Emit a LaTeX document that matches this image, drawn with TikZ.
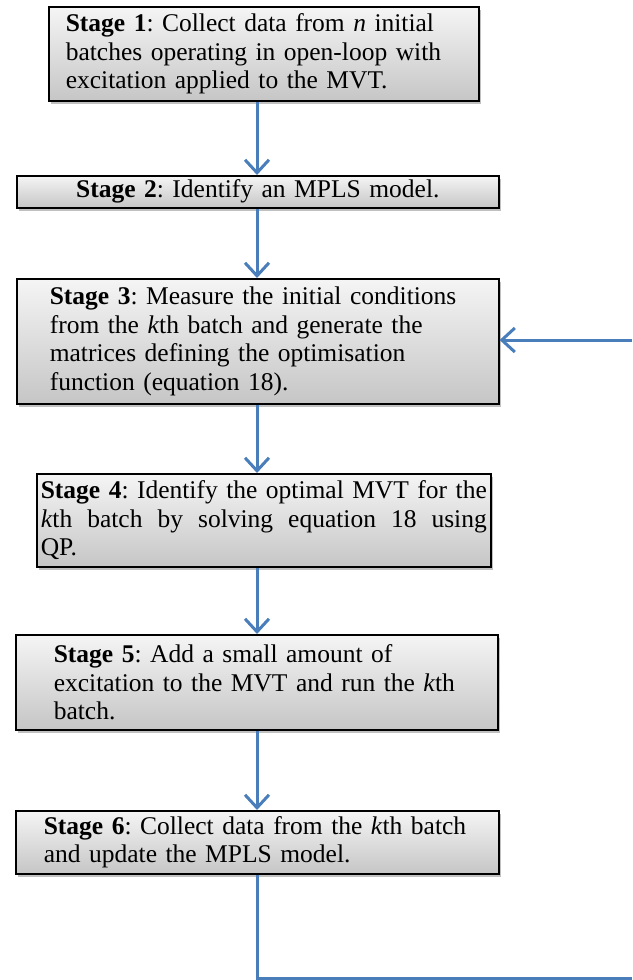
\documentclass[tikz,border=0pt]{standalone}
\usepackage{fontspec}
\setmainfont{Liberation Serif}
\usetikzlibrary{arrows.meta,shadows}
\definecolor{arrowblue}{RGB}{74,126,187}
\frenchspacing
\newcommand{\justline}[2]{\makebox[#1][s]{\spaceskip=0pt\xspaceskip=0pt\relax #2}}
\tikzset{
  stagebox/.style={draw=black, line width=1.6pt, top color=gray!8, bottom color=gray!45,
    drop shadow={shadow xshift=2.5pt, shadow yshift=-3pt, fill=black!45, opacity=0.55},
    anchor=north west, inner ysep=0pt, align=left,
    font=\fontsize{25.5}{28.5}\selectfont},
  flow/.style={draw=arrowblue, line width=3pt, -{Straight Barb[length=13pt,width=24pt,line width=3pt]}},
  plainflow/.style={draw=arrowblue, line width=3pt}
}
\begin{document}
\begin{tikzpicture}[x=1pt,y=-1pt]
\useasboundingbox (0,0) rectangle (632,980);
\node[stagebox, minimum height=94pt, inner xsep=17pt, text width=396pt] (s1) at (48,6)
  {\textbf{Stage 1}: Collect data from \textit{n} initial\\batches operating in open-loop with\\excitation applied to the MVT.};
\node[stagebox, minimum height=32pt, inner xsep=4pt, text width=474pt, align=center] (s2) at (16,175)
  {\textbf{Stage 2}: Identify an MPLS model.};
\node[stagebox, minimum height=125pt, inner xsep=33pt, text width=416pt] (s3) at (16,278)
  {\textbf{Stage 3}: Measure the initial conditions\\from the \textit{k}th batch and generate the\\matrices defining the optimisation\\function (equation 18).};
\node[stagebox, minimum height=93pt, inner xsep=4pt, text width=446pt] (s4) at (36,473)
  {\justline{446pt}{\textbf{Stage 4}: Identify the optimal MVT for the}\\\justline{446pt}{\textit{k}th batch by solving equation 18 using}\\QP.};
\node[stagebox, minimum height=95pt, inner xsep=38pt, text width=406pt] (s5) at (15,634)
  {\textbf{Stage 5}: Add a small amount of\\excitation to the MVT and run the \textit{k}th\\batch.};
\node[stagebox, minimum height=63pt, inner xsep=28pt, text width=427pt] (s6) at (15,810)
  {\textbf{Stage 6}: Collect data from the \textit{k}th batch\\and update the MPLS model.};
\coordinate (loopcorner) at (257,978);
\coordinate (loopend) at (632,978);
\coordinate (loopstart) at (632,340);
\draw[flow] (s1.south -| 257,0) -- (s2.north -| 257,0);
\draw[flow] (s2.south -| 257,0) -- (s3.north -| 257,0);
\draw[flow] (s3.south -| 257,0) -- (s4.north -| 257,0);
\draw[flow] (s4.south -| 257,0) -- (s5.north -| 257,0);
\draw[flow] (s5.south -| 257,0) -- (s6.north -| 257,0);
\draw[plainflow] (s6.south -| 257,0) -- (loopcorner) -- (loopend);
\draw[flow] (loopstart) -- (s3.east |- loopstart);
\end{tikzpicture}
\end{document}
